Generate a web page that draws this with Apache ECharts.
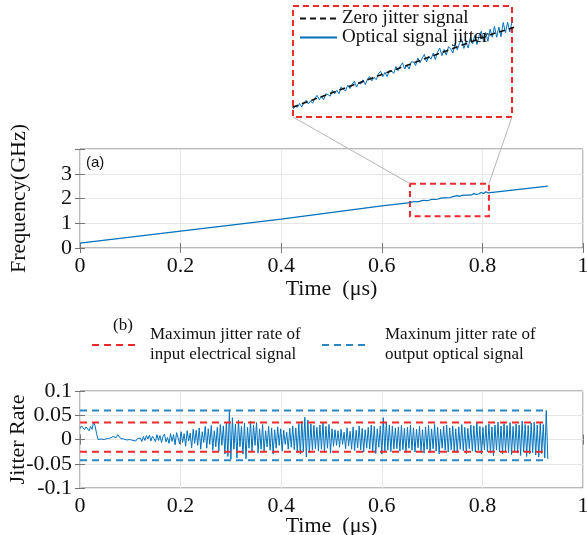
<!DOCTYPE html>
<html>
<head>
<meta charset="utf-8">
<script src="https://cdn.jsdelivr.net/npm/echarts@6/dist/echarts.min.js"></script>
<style>
  html, body { margin: 0; padding: 0; background: #fff; }
  #chart { width: 587px; height: 535px; }
</style>
</head>
<body>
<div id="chart"></div>
<script>
// ---- axis ticks ----
const timeTicksUs = [0, 0.2, 0.4, 0.6, 0.8, 1];
const freqTicksGHz = [0, 1, 2, 3, 4];
const jitterTicks = [-0.1, -0.05, 0, 0.05, 0.1];

// ---- zero-jitter chirp (GHz) ----
const zeroJitterUs = [0, 0.2, 0.4, 0.6, 0.8, 0.93];
const zeroJitterGHz = [0.2, 0.68, 1.17, 1.70, 2.22, 2.5];

// ---- magnified window ----
const zoomWindowUs = [0.656, 0.813];
const zoomWindowGHz = [1.28, 2.6];
const insetRangeGHz = [1.795, 2.36];

// optical signal inside the magnified window, sampled every insetStepUs
const insetStartUs = 0.656;
const insetStepUs = 0.00157;
const insetOpticalGHz = [
  1.834, 1.852, 1.844, 1.864, 1.846, 1.867, 1.880, 1.861, 1.877, 1.865,
  1.891, 1.905, 1.883, 1.901, 1.883, 1.913, 1.909, 1.901, 1.930, 1.913,
  1.931, 1.913, 1.948, 1.936, 1.928, 1.957, 1.940, 1.961, 1.977, 1.947,
  1.969, 1.963, 1.984, 1.960, 1.987, 2.001, 1.979, 1.997, 1.985, 2.015,
  2.028, 2.000, 2.022, 2.000, 2.032, 2.029, 2.017, 2.052, 2.031, 2.054,
  2.071, 2.039, 2.060, 2.039, 2.076, 2.075, 2.057, 2.095, 2.071, 2.094,
  2.114, 2.075, 2.104, 2.089, 2.120, 2.087, 2.125, 2.146, 2.107, 2.139,
  2.110, 2.153, 2.141, 2.120, 2.168, 2.137, 2.169, 2.190, 2.144, 2.176,
  2.146, 2.199, 2.168, 2.210, 2.164, 2.208, 2.231, 2.182, 2.225, 2.180,
  2.242, 2.201, 2.257, 2.201, 2.253, 2.204, 2.276, 2.224, 2.277, 2.228,
  2.280
];

// ---- jitter rate, sampled every jitterStepUs ----
const jitterStepUs = 0.003;
const jitterRate = [
  0.022, 0.028, 0.025, 0.020, 0.026, 0.024, 0.018, 0.027, 0.021, 0.035,
  0.028, 0.012, 0.000, 0.002, 0.001, 0.003, 0.000, 0.004, 0.002, 0.001,
  0.003, 0.001, 0.006, 0.009, 0.004, 0.010, 0.007, 0.002, 0.005, 0.001,
  0.003, -0.001, 0.002, 0.000, 0.004, -0.002, 0.001, -0.003, 0.002, -0.001,
  0.003, -0.004, 0.006, -0.002, 0.008, 0.001, 0.009, -0.003, 0.007, 0.002,
  -0.004, 0.010, -0.002, 0.008, -0.006, 0.006, 0.011, -0.005, 0.004, -0.008,
  0.012, -0.004, 0.010, -0.011, 0.014, 0.003, -0.009, 0.016, -0.006, 0.012,
  -0.014, 0.018, -0.003, 0.013, -0.017, 0.021, -0.008, 0.019, -0.012, 0.024,
  -0.020, 0.016, -0.006, 0.027, -0.018, 0.022, -0.010, 0.029, -0.022, 0.018,
  -0.015, 0.025, -0.024, 0.031, -0.012, 0.028, -0.030, 0.036, -0.035, 0.058,
  -0.041, 0.045, -0.020, 0.032, -0.038, 0.040, -0.015, 0.027, -0.030, 0.034,
  -0.040, 0.025, -0.018, 0.038, -0.026, 0.030, -0.012, 0.035, -0.028, 0.022,
  -0.020, 0.031, -0.025, 0.018, -0.015, 0.027, -0.022, 0.024, -0.030, 0.020,
  -0.018, 0.026, -0.012, 0.022, -0.024, 0.019, -0.010, 0.015, -0.020, 0.023,
  -0.016, 0.028, -0.021, 0.024, -0.027, 0.033, -0.030, 0.038, -0.025, 0.046,
  -0.036, 0.040, -0.028, 0.032, -0.022, 0.029, -0.019, 0.025, -0.024, 0.030,
  -0.020, 0.034, -0.026, 0.027, -0.018, 0.031, -0.028, 0.022, -0.014, 0.020,
  -0.012, 0.018, -0.016, 0.021, -0.010, 0.015, -0.019, 0.024, -0.013, 0.017,
  -0.020, 0.026, -0.023, 0.019, -0.017, 0.028, -0.021, 0.023, -0.026, 0.020,
  -0.018, 0.025, -0.020, 0.030, -0.024, 0.027, -0.029, 0.022, -0.016, 0.028,
  -0.030, 0.045, -0.026, 0.035, -0.022, 0.030, -0.025, 0.028, -0.020, 0.024,
  -0.019, 0.026, -0.024, 0.029, -0.021, 0.023, -0.027, 0.025, -0.018, 0.030,
  -0.022, 0.024, -0.026, 0.021, -0.017, 0.027, -0.023, 0.020, -0.028, 0.026,
  -0.020, 0.029, -0.025, 0.022, -0.019, 0.031, -0.024, 0.025, -0.030, 0.021,
  -0.018, 0.027, -0.022, 0.030, -0.026, 0.024, -0.021, 0.028, -0.025, 0.022,
  -0.027, 0.026, -0.020, 0.031, -0.023, 0.025, -0.029, 0.023, -0.019, 0.030,
  -0.024, 0.028, -0.026, 0.034, -0.022, 0.027, -0.030, 0.025, -0.021, 0.029,
  -0.025, 0.032, -0.028, 0.026, -0.034, 0.030, -0.022, 0.036, -0.026, 0.028,
  -0.030, 0.033, -0.024, 0.029, -0.027, 0.035, -0.031, 0.027, -0.025, 0.032,
  -0.028, 0.030, -0.033, 0.038, -0.026, 0.031, -0.035, 0.029, -0.030, 0.034,
  -0.027, 0.036, -0.032, 0.030, -0.036, 0.033, -0.029, 0.031, -0.038, 0.060,
  -0.040
];

// ---- maximum jitter bounds ----
const boundSpanUs = [0, 0.93];
const inputJitterBounds = [0.035, -0.025];
const outputJitterBounds = [0.06, -0.043];

// ---- names ----
const legendInput = 'Maximun jitter rate of\ninput electrical signal';
const legendOutput = 'Maxinum jitter rate of\noutput optical signal';
const legendZero = 'Zero jitter signal';
const legendOptical = 'Optical signal jitter';

// ---- derived series data ----
const zeroJitterData = zeroJitterUs.map((t, i) => [t, zeroJitterGHz[i]]);
const insetData = insetOpticalGHz.map((f, i) => [+(insetStartUs + i * insetStepUs).toFixed(5), f]);
const mainOpticalData = []
  .concat(zeroJitterData.filter(p => p[0] < zoomWindowUs[0]))
  .concat(insetData)
  .concat(zeroJitterData.filter(p => p[0] > zoomWindowUs[1]));
const jitterData = jitterRate.map((v, i) => [+(i * jitterStepUs).toFixed(4), v]);
function boundData(b) {
  return [[boundSpanUs[0], b[0]], [boundSpanUs[1], b[0]], [boundSpanUs[1], '-'],
          [boundSpanUs[0], b[1]], [boundSpanUs[1], b[1]]];
}

const SERIF = '"Liberation Serif", "Times New Roman", serif';
const BLUE = '#0072bd';
const RED = '#ee2a2a';
const DBLUE = '#2b86c6';
const BOX = '#777';
const GRIDC = '#e6e6e6';

function fmt(v) { return String(+v.toFixed(3)); }

const nameStyle = { fontFamily: SERIF, fontSize: 22, color: '#111', width: 300, overflow: 'none' };

function mainX(gridIndex, nameGap) {
  return {
    type: 'value', gridIndex, min: 0, max: 1, interval: 0.2,
    axisLine: { show: false },
    axisTick: { show: true, inside: true, length: 5, lineStyle: { color: BOX } },
    splitLine: { show: true, lineStyle: { color: GRIDC, width: 1 } },
    axisLabel: { fontFamily: SERIF, fontSize: 22, color: '#111', margin: 7, formatter: fmt,
      showMinLabel: true, showMaxLabel: true, hideOverlap: false },
    name: 'Time  (μs)', nameLocation: 'middle', nameGap, nameMoveOverlap: false,
    nameTruncate: { maxWidth: 400 },
    nameTextStyle: nameStyle
  };
}
function mirrorX(gridIndex) {
  return {
    type: 'value', gridIndex, min: 0, max: 1, interval: 0.2, position: 'top',
    axisLine: { show: false }, axisLabel: { show: false }, splitLine: { show: false },
    axisTick: { show: true, inside: true, length: 5, lineStyle: { color: BOX } }
  };
}
function mirrorY(gridIndex, min, max, interval) {
  return {
    type: 'value', gridIndex, min, max, interval, position: 'right',
    axisLine: { show: false }, axisLabel: { show: false }, splitLine: { show: false },
    axisTick: { show: true, inside: true, length: 5, lineStyle: { color: BOX } }
  };
}

const chart = echarts.init(document.getElementById('chart'), null, { renderer: 'canvas' });

const legendBase = { itemStyle: { opacity: 0 } };

const option = {
  animation: false,
  backgroundColor: '#fff',
  title: [
    { text: '(a)', left: 81, top: 150, textStyle: { fontFamily: '"Liberation Sans", Arial, sans-serif', fontSize: 15, fontWeight: 'normal', color: '#111' } },
    { text: '(b)', left: 108, top: 312, textStyle: { fontFamily: SERIF, fontSize: 17, fontWeight: 'normal', color: '#111' } }
  ],
  grid: [
    { left: 80, top: 149, width: 503, height: 99, show: true, borderColor: BOX, borderWidth: 1,
      backgroundColor: 'transparent', containLabel: false, outerBoundsMode: 'none' },
    { left: 80, top: 391, width: 503, height: 97, show: true, borderColor: BOX, borderWidth: 1,
      backgroundColor: 'transparent', containLabel: false, outerBoundsMode: 'none' },
    { left: 293, top: 6, width: 219, height: 111, show: false, containLabel: false, outerBoundsMode: 'none' }
  ],
  legend: [
    Object.assign({
      data: [legendInput], left: 86, top: 320, itemWidth: 46, itemHeight: 12,
      textStyle: { fontFamily: SERIF, fontSize: 17, color: '#111', lineHeight: 20, padding: [0, 0, 0, 7] }
    }, legendBase),
    Object.assign({
      data: [legendOutput], left: 316, top: 320, itemWidth: 46, itemHeight: 12,
      textStyle: { fontFamily: SERIF, fontSize: 17, color: '#111', lineHeight: 20, padding: [0, 0, 0, 12] }
    }, legendBase),
    Object.assign({
      data: [legendZero, legendOptical], orient: 'vertical', left: 294, top: 4, itemGap: 0,
      itemWidth: 37, itemHeight: 14,
      textStyle: { fontFamily: SERIF, fontSize: 19, color: '#111', lineHeight: 18, padding: [0, 0, 0, 0] }
    }, legendBase)
  ],
  xAxis: [
    mainX(0, 30),
    mainX(1, 27),
    { type: 'value', gridIndex: 2, min: zoomWindowUs[0], max: zoomWindowUs[1], show: false },
    mirrorX(0),
    mirrorX(1)
  ],
  yAxis: [
    {
      type: 'value', gridIndex: 0, min: freqTicksGHz[0], max: freqTicksGHz[freqTicksGHz.length - 1], interval: 1,
      axisLine: { show: false },
      axisTick: { show: true, inside: true, length: 5, lineStyle: { color: BOX } },
      splitLine: { show: true, lineStyle: { color: GRIDC } },
      axisLabel: { fontFamily: SERIF, fontSize: 22, color: '#111', margin: 8,
        showMinLabel: true, showMaxLabel: true, hideOverlap: false,
        formatter: v => (v === freqTicksGHz[freqTicksGHz.length - 1] ? '' : fmt(v)) },
      name: 'Frequency(GHz)', nameLocation: 'middle', nameGap: 50, nameMoveOverlap: false,
      nameTruncate: { maxWidth: 400 },
      nameTextStyle: nameStyle
    },
    {
      type: 'value', gridIndex: 1, min: jitterTicks[0], max: jitterTicks[jitterTicks.length - 1], interval: 0.05,
      axisLine: { show: false },
      axisTick: { show: true, inside: true, length: 5, lineStyle: { color: BOX } },
      splitLine: { show: true, lineStyle: { color: GRIDC } },
      axisLabel: { fontFamily: SERIF, fontSize: 22, color: '#111', margin: 8, formatter: fmt,
        showMinLabel: true, showMaxLabel: true, hideOverlap: false },
      name: 'Jitter Rate', nameLocation: 'middle', nameGap: 51, nameMoveOverlap: false,
      nameTruncate: { maxWidth: 400 },
      nameTextStyle: nameStyle
    },
    { type: 'value', gridIndex: 2, min: insetRangeGHz[0], max: insetRangeGHz[1], show: false },
    mirrorY(0, 0, 4, 1),
    mirrorY(1, -0.1, 0.1, 0.05)
  ],
  series: [
    {
      name: 'Optical signal', type: 'line', xAxisIndex: 0, yAxisIndex: 0,
      data: mainOpticalData, showSymbol: false, symbol: 'none',
      lineStyle: { color: BLUE, width: 1.2 },
      markArea: {
        silent: true,
        itemStyle: { color: 'transparent', borderColor: RED, borderWidth: 2, borderType: [6, 4] },
        data: [[{ coord: [zoomWindowUs[0], zoomWindowGHz[1]] }, { coord: [zoomWindowUs[1], zoomWindowGHz[0]] }]]
      }
    },
    {
      name: legendOptical, type: 'line', xAxisIndex: 2, yAxisIndex: 2,
      data: insetData, showSymbol: false, symbol: 'none',
      lineStyle: { color: BLUE, width: 1 }, itemStyle: { color: BLUE }
    },
    {
      name: legendZero, type: 'line', xAxisIndex: 2, yAxisIndex: 2,
      data: zeroJitterData, showSymbol: false, symbol: 'none',
      lineStyle: { color: '#111', width: 1.6, type: [6, 4] }, itemStyle: { color: '#111' }
    },
    {
      name: 'inset frame', type: 'line', xAxisIndex: 2, yAxisIndex: 2, data: [], clip: false,
      markArea: {
        silent: true,
        itemStyle: { color: 'transparent', borderColor: RED, borderWidth: 2, borderType: [6, 4] },
        data: [[{ coord: [zoomWindowUs[0], insetRangeGHz[1]] }, { coord: [zoomWindowUs[1], insetRangeGHz[0]] }]]
      }
    },
    {
      name: 'Jitter', type: 'line', xAxisIndex: 1, yAxisIndex: 1,
      data: jitterData, showSymbol: false, symbol: 'none',
      lineStyle: { color: BLUE, width: 1 }
    },
    {
      name: legendInput, type: 'line', xAxisIndex: 1, yAxisIndex: 1,
      data: boundData(inputJitterBounds), showSymbol: false, symbol: 'none', connectNulls: false,
      lineStyle: { color: RED, width: 2, type: [7, 5] }, itemStyle: { color: RED }
    },
    {
      name: legendOutput, type: 'line', xAxisIndex: 1, yAxisIndex: 1,
      data: boundData(outputJitterBounds), showSymbol: false, symbol: 'none', connectNulls: false,
      lineStyle: { color: DBLUE, width: 2, type: [7, 5] }, itemStyle: { color: DBLUE }
    }
  ]
};

chart.setOption(option);

// connector lines between the magnified window and the inset frame
const a0 = chart.convertToPixel({ gridIndex: 0 }, [zoomWindowUs[0], zoomWindowGHz[1]]);
const a1 = chart.convertToPixel({ gridIndex: 0 }, [zoomWindowUs[1], zoomWindowGHz[1]]);
const b0 = chart.convertToPixel({ gridIndex: 2 }, [zoomWindowUs[0], insetRangeGHz[0]]);
const b1 = chart.convertToPixel({ gridIndex: 2 }, [zoomWindowUs[1], insetRangeGHz[0]]);
chart.setOption({
  graphic: [
    { type: 'line', z: 1, shape: { x1: a0[0], y1: a0[1], x2: b0[0], y2: b0[1] }, style: { stroke: '#b5b5b5', lineWidth: 1 } },
    { type: 'line', z: 1, shape: { x1: a1[0], y1: a1[1], x2: b1[0], y2: b1[1] }, style: { stroke: '#b5b5b5', lineWidth: 1 } }
  ]
});
</script>
</body>
</html>
